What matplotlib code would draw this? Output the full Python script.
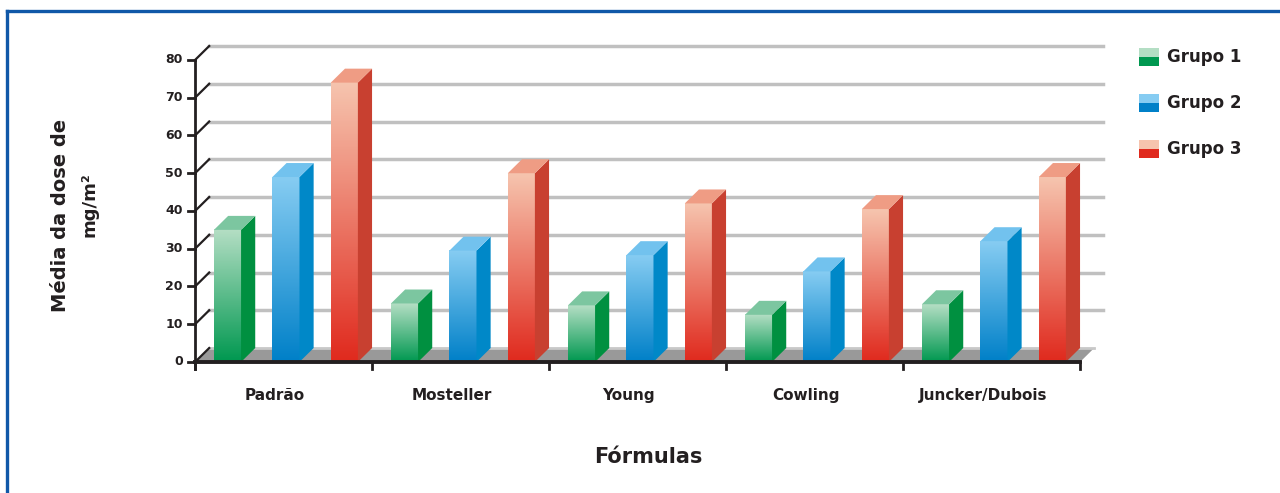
import numpy as np
import matplotlib
matplotlib.use('Agg')
from matplotlib import pyplot as plt
from matplotlib.patches import Polygon, Rectangle
from matplotlib.colors import LinearSegmentedColormap
from matplotlib.lines import Line2D

categorias = ['Padrão', 'Mosteller', 'Young', 'Cowling', 'Juncker/Dubois']
grupos = ['Grupo 1', 'Grupo 2', 'Grupo 3']
grupo1 = [35.0, 15.5, 15.0, 12.5, 15.3]
grupo2 = [49.0, 29.5, 28.3, 24.0, 32.0]
grupo3 = [74.0, 50.0, 42.0, 40.5, 49.0]
yticks = [0, 10, 20, 30, 40, 50, 60, 70, 80]

# (front top, front bottom, side, top face)
cores = [('#b4dec4', '#009850', '#009040', '#7cc6a0'),
         ('#86ccf2', '#0080c8', '#0088c8', '#72c2ee'),
         ('#f6c4ae', '#e02a1e', '#c84030', '#ef9c84')]

fig = plt.figure(figsize=(12.8, 4.93), dpi=100)
ax = fig.add_axes([0.1109, 0.2351, 0.7882, 0.6892])
ax.set_xlim(-0.3, 5.4)
ax.set_ylim(-4, 86)
ax.axis('off')

dx, dy = 0.08, 3.7
w = 0.153
n = len(categorias)

# floor
ax.add_patch(Polygon([(0, 0), (n, 0), (n + dx, dy), (dx, dy)], closed=True,
                     facecolor='#999999', edgecolor='none', zorder=1))
ax.plot([dx, n + dx], [dy, dy], color='#c8c8c8', lw=2, zorder=1)

# gridlines on back wall and ticks
for v in yticks:
    if v > 0:
        ax.plot([dx, n + dx + 0.05], [v + dy, v + dy], color='#c0c0c0', lw=2.5, zorder=0)
    ax.plot([0, dx], [v, v + dy], color='#231f20', lw=1.6, zorder=2)
    ax.plot([-0.04, 0], [v, v], color='#231f20', lw=2, zorder=2)
    ax.text(-0.07, v, str(v), ha='right', va='center', fontsize=9,
            fontweight='bold', color='#231f20')

ax.plot([0, 0], [-1.8, 80], color='#231f20', lw=2, zorder=5)
ax.plot([0, n], [0, 0], color='#231f20', lw=2.8, zorder=5)
for i in range(n + 1):
    ax.plot([i, i], [0, -1.8], color='#231f20', lw=2, zorder=5)

for i, cat in enumerate(categorias):
    ax.text(i + 0.45, -9, cat, ha='center', va='center', fontsize=11,
            fontweight='bold', color='#231f20')

# bars
series = [grupo1, grupo2, grupo3]
for j, vals in enumerate(series):
    top, bot, side, face = cores[j]
    cmap = LinearSegmentedColormap.from_list('g%d' % j, [bot, top])
    for i, h in enumerate(vals):
        x0 = i + 0.107 + 0.33 * j
        grad = np.linspace(0, 1, 100).reshape(-1, 1)
        ax.imshow(grad, cmap=cmap, origin='lower', aspect='auto',
                  extent=[x0, x0 + w, 0, h], zorder=3)
        ax.add_patch(Polygon([(x0 + w, 0), (x0 + w + dx, dy), (x0 + w + dx, h + dy), (x0 + w, h)],
                             closed=True, facecolor=side, edgecolor='none', zorder=3))
        ax.add_patch(Polygon([(x0, h), (x0 + w, h), (x0 + w + dx, h + dy), (x0 + dx, h + dy)],
                             closed=True, facecolor=face, edgecolor='none', zorder=3))

# legend
for j, g in enumerate(grupos):
    yc = 1 - (57 + 46 * j) / 493
    top, bot, side, face = cores[j]
    fig.add_artist(Rectangle((1139 / 1280, yc - 9 / 493), 20 / 1280, 9 / 493,
                             facecolor=bot, edgecolor='none', transform=fig.transFigure))
    fig.add_artist(Rectangle((1139 / 1280, yc), 20 / 1280, 9 / 493,
                             facecolor=top, edgecolor='none', transform=fig.transFigure))
    fig.text(1167 / 1280, yc, g, ha='left', va='center', fontsize=12,
             fontweight='bold', color='#231f20')

fig.text(648 / 1280, 1 - 457 / 493, 'Fórmulas', ha='center', va='center',
         fontsize=15, fontweight='bold', color='#231f20')
fig.text(60 / 1280, 1 - 215 / 493, 'Média da dose de', ha='center', va='center',
         rotation=90, fontsize=14, fontweight='bold', color='#231f20')
fig.text(89 / 1280, 1 - 205 / 493, 'mg/m²', ha='center', va='center',
         rotation=90, fontsize=13, fontweight='bold', color='#231f20')

# frame
fig.add_artist(Line2D([7 / 1280, 1], [1 - 11 / 493, 1 - 11 / 493], color='#1058a8',
                      lw=2.4, transform=fig.transFigure))
fig.add_artist(Line2D([7 / 1280, 7 / 1280], [0, 1 - 11 / 493], color='#1058a8',
                      lw=2.4, transform=fig.transFigure))

fig.savefig('out.png', dpi=100)
